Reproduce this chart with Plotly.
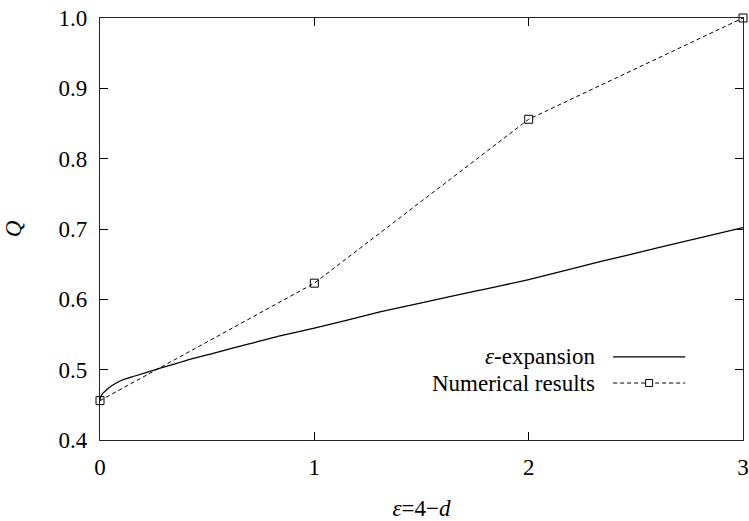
import plotly.graph_objects as go

# Numerical results (squares joined by a dashed line)
eps_num = [0, 1, 2, 3]
q_num = [0.456, 0.623, 0.856, 1.0]

# epsilon-expansion curve
eps_exp = [0.0, 0.003, 0.008, 0.015, 0.023, 0.04, 0.07, 0.11, 0.163, 0.27, 0.4, 0.537,
           0.7, 0.84, 1.0, 1.306, 1.5, 1.773, 2.0, 2.333, 2.6, 3.0]
q_exp = [0.457, 0.461, 0.464, 0.467, 0.469, 0.474, 0.480, 0.486, 0.491, 0.501, 0.513,
         0.524, 0.537, 0.548, 0.559, 0.582, 0.595, 0.613, 0.628, 0.6535, 0.673, 0.702]

x_ticks = [0, 1, 2, 3]
y_ticks = [0.4, 0.5, 0.6, 0.7, 0.8, 0.9, 1.0]

FONT = "Liberation Serif"
FS = 23

fig = go.Figure()
fig.add_trace(go.Scatter(
    x=eps_exp, y=q_exp, mode="lines", name="ε-expansion",
    line=dict(color="black", width=1.3, shape="spline", smoothing=0.6), showlegend=False))
fig.add_trace(go.Scatter(
    x=eps_num, y=q_num, mode="lines+markers", name="Numerical results",
    line=dict(color="black", width=1, dash="4px,3px"),
    marker=dict(symbol="square-open", size=8, color="black", line=dict(width=1)),
    cliponaxis=False, showlegend=False))

axis_common = dict(
    showgrid=False, zeroline=False, showline=True, linecolor="#222", linewidth=1.3,
    mirror="ticks", ticks="inside", ticklen=8, tickwidth=1, tickcolor="black",
    tickfont=dict(family=FONT, size=FS, color="black"), automargin=False,
)

fig.update_xaxes(range=[0, 3], tickvals=x_ticks, ticktext=[str(v) for v in x_ticks],
                 ticklabelstandoff=6,
                 title=dict(text="<i>ε</i>=4−<i>d</i>", font=dict(family=FONT, size=FS, color="black"),
                            standoff=22),
                 **axis_common)
fig.update_yaxes(range=[0.4, 1.0], tickvals=y_ticks, ticktext=[f"{v:.1f}" for v in y_ticks],
                 ticklabelstandoff=7,
                 title=dict(text="<i>Q</i>", font=dict(family=FONT, size=FS, color="black"),
                            standoff=30),
                 **axis_common)

# Key: labels on the left, line samples on the right
key_rows = [("<i>ε</i>-expansion", 0.197, "solid", False),
            ("Numerical results", 0.135, "4px,3px", True)]
for label, yp, dash, has_marker in key_rows:
    fig.add_annotation(x=0.773, y=yp, xref="paper", yref="paper", text=label,
                       showarrow=False, xanchor="right", yanchor="middle",
                       font=dict(family=FONT, size=FS, color="black"))
    fig.add_shape(type="line", xref="paper", yref="paper", x0=0.798, x1=0.910, y0=yp, y1=yp,
                  line=dict(color="black", width=1.3 if dash == "solid" else 1, dash=dash))
    if has_marker:
        fig.add_shape(type="rect", xref="paper", yref="paper", xsizemode="pixel", ysizemode="pixel",
                      xanchor=0.854, yanchor=yp, x0=-3.5, x1=3.5, y0=-3.5, y1=3.5,
                      line=dict(color="black", width=1), fillcolor="white")

fig.update_layout(
    width=749, height=521,
    margin=dict(l=100, r=6, t=18, b=81, autoexpand=False),
    paper_bgcolor="white", plot_bgcolor="white",
    font=dict(family=FONT, color="black"),
)

fig.write_html("out.html")
